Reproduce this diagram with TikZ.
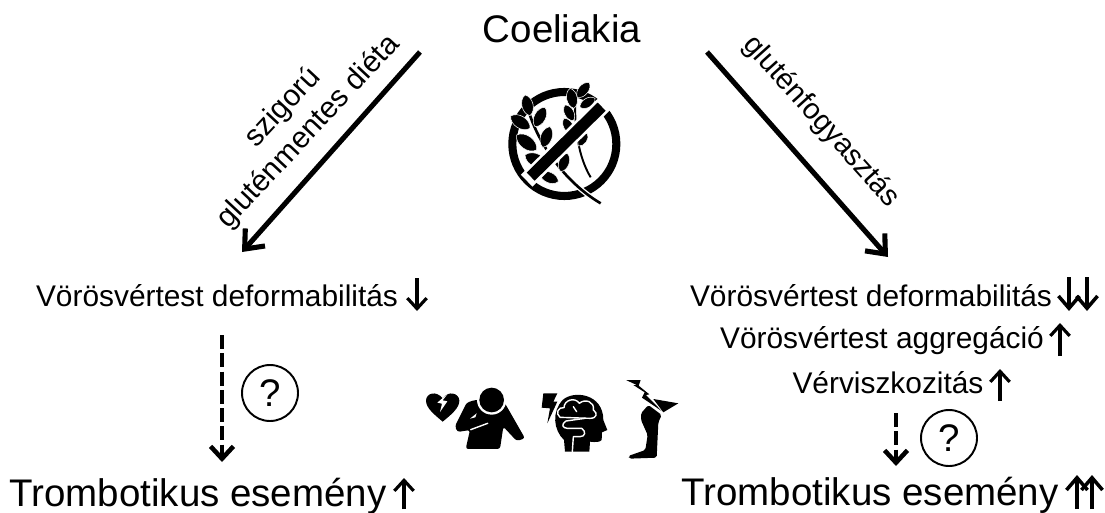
\documentclass[tikz,border=0pt]{standalone}
\usepackage{fontspec}
\setmainfont{Liberation Sans}
\usetikzlibrary{arrows.meta, positioning, calc}

% wheat leaf between two points
\newcommand{\leaf}[2]{\filldraw[draw=white, line width=0.3pt] (#1) to[bend left=64] (#2) to[bend left=64] (#1) -- cycle;}

\begin{document}
\begin{tikzpicture}[
  x=0.02cm, y=-0.02cm,
  big/.style={font=\fontsize{21.9}{25}\selectfont, inner sep=0pt, anchor=base},
  mid/.style={font=\fontsize{17}{20}\selectfont, inner sep=0pt, anchor=base},
  qmark/.style={draw, circle, line width=1.1pt, minimum size=1.12cm, inner sep=0pt, font=\fontsize{21.9}{25}\selectfont},
  arr/.style={-{Straight Barb[length=9pt, width=15pt, line width=2.9pt]}, line width=2.9pt},
  darr/.style={-{Straight Barb[length=7pt, width=13pt, line width=2.6pt]}, line width=2.6pt, dash pattern=on 8pt off 2.4pt},
  updn/.style={-{Straight Barb[length=6pt, width=11pt, line width=1.8pt]}, line width=1.8pt},
  updnb/.style={-{Straight Barb[length=7pt, width=12pt, line width=2pt]}, line width=2pt},
  halo/.style={white, line width=0.8pt, line cap=round, line join=round},
  icon/.style={shift={(#1)}, x=0.00667cm, y=-0.00667cm}
]
\useasboundingbox (0,0) rectangle (1105,513);

% ----- Titre -----
\node[big] (coeliakia) at (562,43) {Coeliakia};

% ----- Colonne gauche -----
\node[mid] (defl) at (217,306) {Vörösvértest deformabilitás};
\node[big] (tromb) at (198,506) {Trombotikus esemény};
\node[qmark] (ql) at (270,393) {?};

% ----- Colonne droite -----
\node[mid] (defr) at (871,306) {Vörösvértest deformabilitás};
\node[mid] (aggr) at (882,348) {Vörösvértest aggregáció};
\node[mid] (visc) at (888,393) {Vérviszkozitás};
\node[big] (trombr) at (870,505) {Trombotikus esemény};
\node[qmark] (qr) at (949,438) {?};

% ----- Fleches principales -----
\coordinate (startl) at (420,52);
\coordinate (endl) at (242,252);
\coordinate (startr) at (707,52);
\coordinate (endr) at (888,257);
\draw[arr] (startl) -- (endl);
\draw[arr] (startr) -- (endr);
\node[mid, anchor=center, align=center, rotate=47] (diet) at (296,120) {szigorú\\gluténmentes diéta};
\node[mid, anchor=center, rotate=-48, font=\fontsize{16.6}{20}\selectfont] (gluten) at (821,122) {gluténfogyasztás};

% ----- Fleches pointillees -----
\coordinate (dlstart) at (222,335);
\coordinate (dlend) at (222,462);
\coordinate (drstart) at (896,413);
\coordinate (drend) at (896,466);
\draw[darr] (dlstart) -- (dlend);
\draw[darr] (drstart) -- (drend);

% ----- Petites fleches -----
\foreach \name/\x/\ya/\yb in {a/417/278/311, b/404/509/478, c/1060/356/323, d/1000/401/369}{
  \coordinate (\name s) at (\x,\ya);
  \coordinate (\name e) at (\x,\yb);
  \draw[updn] (\name s) -- (\name e);
}
\foreach \name/\x/\ya/\yb in {f/1069/277/311, g/1087/277/311, h/1077/509/475, i/1092/509/475}{
  \coordinate (\name s) at (\x,\ya);
  \coordinate (\name e) at (\x,\yb);
  \draw[updnb] (\name s) -- (\name e);
}

% ----- Pictogramme ble barre -----
\begin{scope}[icon={490,70}]
  \draw[line width=4.6pt] (223,222) circle[radius=156];
  \draw[white, line width=3pt] (118,130) .. controls (150,230) and (230,340) .. (332,400);
  \draw[line width=1.5pt] (118,130) .. controls (150,230) and (230,340) .. (332,400);
  \draw[white, line width=2.4pt] (255,95) .. controls (255,180) and (265,260) .. (302,322);
  \draw[line width=1.1pt] (255,95) .. controls (255,180) and (265,260) .. (302,322);
  \leaf{120,137}{105,75}
  \leaf{120,175}{62,138}
  \leaf{140,240}{80,195}
  \leaf{172,287}{105,255}
  \leaf{135,170}{165,112}
  \leaf{158,232}{180,170}
  \leaf{212,305}{232,250}
  \leaf{205,335}{150,310}
  \leaf{252,115}{240,55}
  \leaf{262,82}{298,38}
  \leaf{270,112}{315,85}
  \leaf{250,152}{225,105}
  \leaf{248,192}{222,145}
  \leaf{265,228}{292,190}
  \draw[white, line width=9.5pt] (110,332) -- (345,100);
  \draw[line width=6.5pt] (122,320) -- (335,110);
\end{scope}

% ----- Personne et coeur brise -----
\begin{scope}[icon={420,380}]
  \fill (68,125) .. controls (45,105) and (18,85) .. (18,62) .. controls (18,40) and (48,30) .. (68,55)
    .. controls (85,30) and (118,40) .. (118,62) .. controls (118,85) and (92,105) .. (68,125) -- cycle;
  \fill[white] (84,40) -- (52,68) -- (66,71) -- (60,96) -- (82,64) -- (68,61) -- cycle;
  \fill[rounded corners=1.5pt] (165,60) -- (140,68) -- (105,138) -- (112,156) -- (150,150) -- (137,207) -- (240,207)
    -- (250,140) -- (290,183) -- (315,175) -- (255,70) -- (235,62) -- cycle;
  \fill[white] (215,60) circle[radius=44];
  \fill (215,60) circle[radius=37];
  \draw[halo] (152,149) -- (203,130);
  \fill[white] (150,116) -- (170,100) -- (166,112) -- cycle;
\end{scope}

% ----- Tete -----
\begin{scope}[icon={540,385}]
  \fill (10,25) -- (52,25) -- (40,50) -- (52,50) -- (22,115) -- (30,70) -- (5,68) -- cycle;
  \fill (75,200) -- (72,165) .. controls (40,135) and (35,80) .. (68,45) .. controls (100,15) and (190,25) .. (190,105)
    -- (202,135) -- (186,142) -- (185,165) .. controls (180,172) and (165,172) .. (150,170) -- (148,200) -- cycle;
  \draw[halo] (60,97) .. controls (45,85) and (55,65) .. (72,68) .. controls (72,45) and (105,35) .. (118,55)
    .. controls (135,40) and (165,50) .. (160,75) .. controls (175,85) and (170,100) .. (150,100) -- (60,97);
  \draw[halo] (100,65) -- (110,80);
  \draw[halo] (135,100) -- (78,108) .. controls (62,118) and (68,130) .. (82,130) -- (125,130)
    .. controls (140,140) and (135,155) .. (120,155) -- (100,155) -- (97,200);
\end{scope}

% ----- Jambe -----
\begin{scope}[icon={620,375}]
  \fill[rounded corners=1pt] (63,115) -- (85,90) -- (125,120) -- (115,142) -- (110,248) -- (28,251) -- (25,243)
    -- (76,225) -- (83,180) -- (63,135) -- cycle;
  \fill (100,72) -- (175,85) -- (130,112) -- cycle;
  \fill (18,15) -- (62,15) -- (56,32) -- (88,58) -- (78,60) -- (125,108) -- (66,68) -- (74,52) -- (40,30) -- (50,30) -- cycle;
\end{scope}
\end{tikzpicture}
\end{document}
